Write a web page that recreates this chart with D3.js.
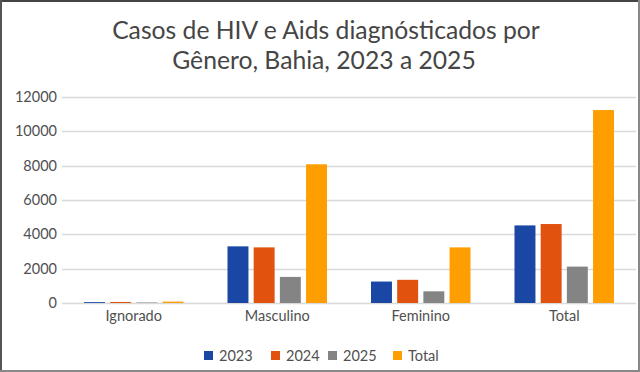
<!DOCTYPE html>
<html>
<head>
<meta charset="utf-8">
<script src="https://cdn.jsdelivr.net/npm/d3@7"></script>
<style>
  body { margin: 0; background: #fff; }
  text { font-family: Lato, "Open Sans", sans-serif; fill: #595959; }
</style>
</head>
<body>
<div id="chart"></div>
<script>
var categories = ['Ignorado', 'Masculino', 'Feminino', 'Total'];
var seriesNames = ['2023', '2024', '2025', 'Total'];
var values2023 = [50, 3300, 1250, 4520];
var values2024 = [60, 3240, 1350, 4600];
var values2025 = [30, 1520, 680, 2120];
var valuesTotal = [80, 8080, 3240, 11240];
var yTicks = [0, 2000, 4000, 6000, 8000, 10000, 12000];
var colors = ['#1a47a3', '#e0520d', '#848484', '#ff9e00'];

var width = 640, height = 372;
var seriesValues = [values2023, values2024, values2025, valuesTotal];

var svg = d3.select("#chart")
  .append("svg")
  .attr("width", width)
  .attr("height", height);

// frame
svg.append("rect").attr("x", 0).attr("y", 0).attr("width", width).attr("height", height).attr("fill", "#fff");
svg.append("line").attr("x1", 0).attr("x2", width).attr("y1", 1).attr("y2", 1).attr("stroke", "#444").attr("stroke-width", 2);
svg.append("line").attr("x1", 1).attr("x2", 1).attr("y1", 0).attr("y2", height).attr("stroke", "#555").attr("stroke-width", 2);
svg.append("line").attr("x1", width - 1).attr("x2", width - 1).attr("y1", 0).attr("y2", height).attr("stroke", "#888").attr("stroke-width", 2);
svg.append("line").attr("x1", 0).attr("x2", width).attr("y1", height - 1).attr("y2", height - 1).attr("stroke", "#888").attr("stroke-width", 2);

// title
svg.append("text")
  .attr("x", 326).attr("y", 39)
  .attr("text-anchor", "middle")
  .attr("font-size", "24.7px")
  .style("fill", "#454545")
  .text("Casos de HIV e Aids diagnósticados por");
svg.append("text")
  .attr("x", 324).attr("y", 69)
  .attr("text-anchor", "middle")
  .attr("font-size", "24.7px")
  .style("fill", "#454545")
  .text("Gênero, Bahia, 2023 a 2025");

var x = d3.scaleBand()
  .domain(categories)
  .range([62, 636]);

var y = d3.scaleLinear()
  .domain([0, 12000])
  .range([303, 97]);

var inner = d3.scaleBand()
  .domain(seriesNames)
  .range([22, x.bandwidth() - 22])
  .paddingInner(0.2);

// grid
svg.append("g")
  .selectAll("line")
  .data(yTicks)
  .enter()
  .append("line")
  .attr("x1", 62).attr("x2", 636)
  .attr("y1", function (d) { return Math.round(y(d)) + 0.5; })
  .attr("y2", function (d) { return Math.round(y(d)) + 0.5; })
  .attr("stroke", "#d9d9d9")
  .attr("stroke-width", 1.5);

// y labels
svg.append("g")
  .selectAll("text")
  .data(yTicks)
  .enter()
  .append("text")
  .attr("x", 57)
  .attr("y", function (d) { return y(d); })
  .attr("dy", "0.35em")
  .attr("text-anchor", "end")
  .attr("font-size", "14.5px")
  .style("fill", "#505050")
  .text(function (d) { return d; });

// bars
seriesNames.forEach(function (name, i) {
  svg.append("g")
    .selectAll("rect")
    .data(seriesValues[i])
    .enter()
    .append("rect")
    .attr("x", function (d, j) { return x(categories[j]) + inner(name); })
    .attr("width", inner.bandwidth())
    .attr("y", function (d) { return y(d); })
    .attr("height", function (d) { return y(0) - y(d); })
    .attr("fill", colors[i]);
});

// x labels
svg.append("g")
  .selectAll("text")
  .data(categories)
  .enter()
  .append("text")
  .attr("x", function (d) { return x(d) + x.bandwidth() / 2; })
  .attr("y", 321)
  .attr("text-anchor", "middle")
  .attr("font-size", "14.5px")
  .style("fill", "#505050")
  .text(function (d) { return d; });

// legend
var legendX = [204, 271, 328, 393];
var legend = svg.append("g")
  .selectAll("g")
  .data(seriesNames)
  .enter()
  .append("g")
  .attr("transform", function (d, i) { return "translate(" + legendX[i] + ",356)"; });

legend.append("rect")
  .attr("x", 0).attr("y", -5)
  .attr("width", 9).attr("height", 9)
  .attr("fill", function (d, i) { return colors[i]; });

legend.append("text")
  .attr("x", 15).attr("y", 0)
  .attr("dy", "0.35em")
  .attr("font-size", "14.5px")
  .style("fill", "#505050")
  .text(function (d) { return d; });
</script>
</body>
</html>
